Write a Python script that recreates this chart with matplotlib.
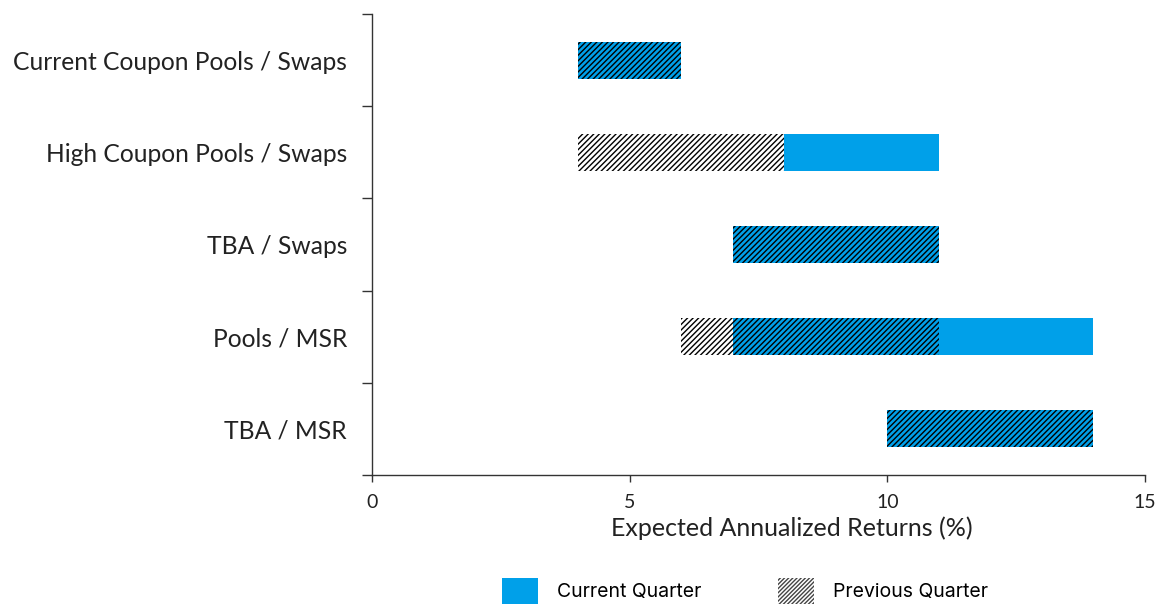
import matplotlib
matplotlib.use("Agg")
import matplotlib.pyplot as plt
from matplotlib.patches import Patch

categories = [
    "Current Coupon Pools / Swaps",
    "High Coupon Pools / Swaps",
    "TBA / Swaps",
    "Pools / MSR",
    "TBA / MSR",
]
current_low = [4, 8, 7, 7, 10]
current_high = [6, 11, 11, 14, 14]
previous_low = [4, 4, 7, 6, 10]
previous_high = [6, 8, 11, 11, 14]
x_ticks = [0, 5, 10, 15]

BLUE = "#00A0E9"
AXIS = "#333333"
TEXT = "#222222"
plt.rcParams["font.family"] = ["Lato", "DejaVu Sans"]
plt.rcParams["hatch.linewidth"] = 1.0

fig = plt.figure(figsize=(11.59, 6.06), dpi=100)
ax = fig.add_axes([372 / 1159, 1 - 475 / 606, 773 / 1159, 461 / 606])

pos = list(range(len(categories)))
cur_w = [h - l for l, h in zip(current_low, current_high)]
prev_w = [h - l for l, h in zip(previous_low, previous_high)]

ax.barh(pos, cur_w, left=current_low, height=0.4, color=BLUE, linewidth=0)
ax.barh(pos, prev_w, left=previous_low, height=0.4, fill=False,
        hatch="//////", edgecolor="black", linewidth=0)

ax.set_xlim(0, 15)
ax.set_ylim(len(categories) - 0.5, -0.5)
ax.set_xticks(x_ticks)
ax.set_xticklabels([str(t) for t in x_ticks], fontsize=14, color=TEXT)
ax.set_yticks(pos)
ax.set_yticklabels(categories, fontsize=17.7, color=TEXT)
ax.set_yticks([p - 0.5 for p in pos] + [len(categories) - 0.5], minor=True)
ax.tick_params(axis="y", which="major", length=0, pad=18)
ax.tick_params(axis="y", which="minor", length=7, width=1, color=AXIS, direction="out")
ax.tick_params(axis="x", which="major", length=5, width=1, color=AXIS,
               direction="out", pad=9)

for side in ("top", "right"):
    ax.spines[side].set_visible(False)
for side in ("left", "bottom"):
    ax.spines[side].set_color(AXIS)
    ax.spines[side].set_linewidth(1)

ax.set_xlabel("Expected Annualized Returns (%)", fontsize=18, color=TEXT)
ax.xaxis.set_label_coords((792 - 372) / 773, -0.09)

handles = [
    Patch(facecolor=BLUE, edgecolor="none", label="Current Quarter"),
    Patch(facecolor="white", edgecolor="#444444", linewidth=0, hatch="////////",
          label="Previous Quarter"),
]
fig.legend(handles=handles, loc="center", bbox_to_anchor=(745 / 1159, 1 - 591 / 606),
           ncol=2, frameon=False, handlelength=1.85, handleheight=1.65,
           handletextpad=1.0, columnspacing=3.9,
           prop={"family": ["Inter", "DejaVu Sans"], "size": 14})

fig.savefig("out.png", dpi=100)
